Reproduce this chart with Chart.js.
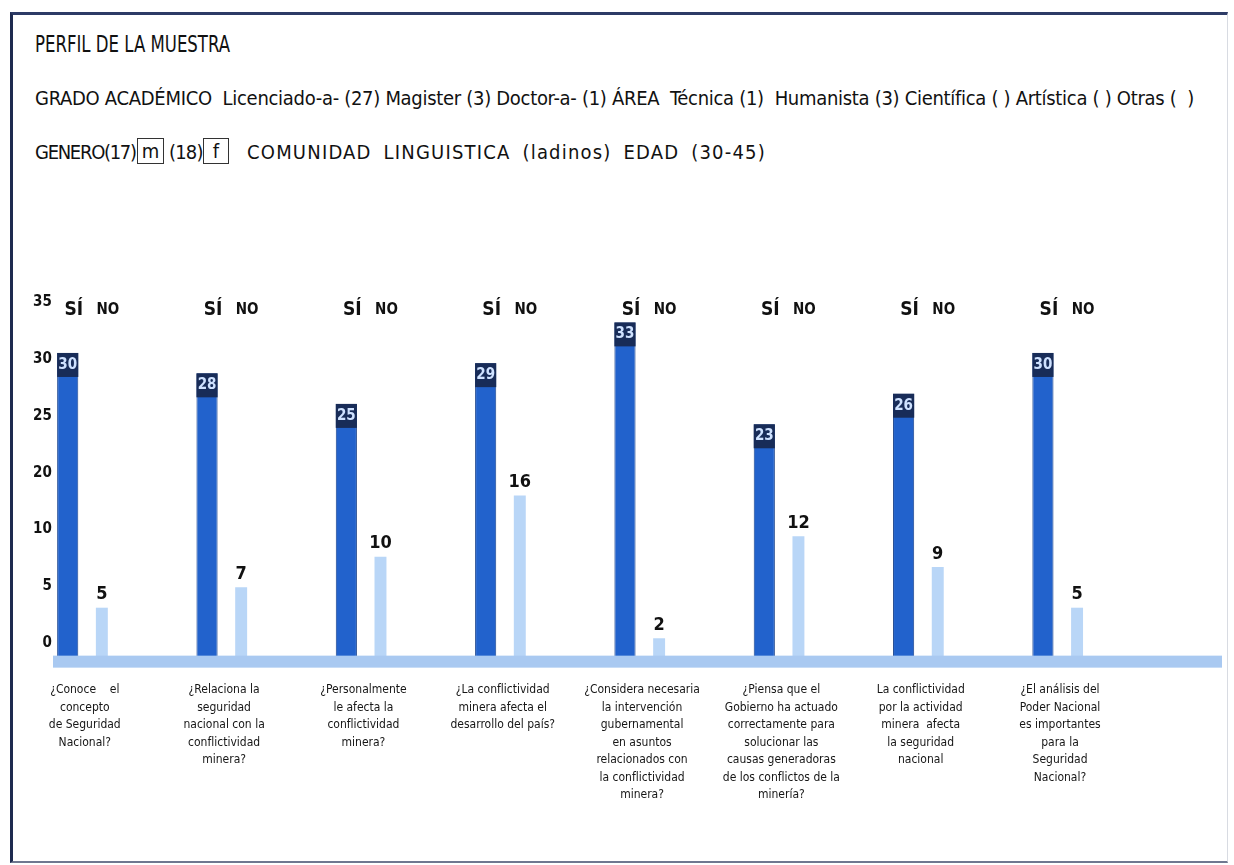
<!DOCTYPE html>
<html lang="es">
<head>
<meta charset="utf-8">
<title>Perfil de la muestra</title>
<script src="https://cdn.jsdelivr.net/npm/chart.js@4.4.1/dist/chart.umd.min.js"></script>
<style>
    html, body { margin: 0; padding: 0; background: #ffffff; }
    #page { position: relative; width: 1234px; height: 865px; overflow: hidden; background: #fff; }
    #frame {
        position: absolute; left: 10px; top: 12px; width: 1214px; height: 846px;
        border-left: 3px solid #1e2a4f; border-top: 3px solid #2d3b66;
        border-bottom: 2px solid #6f7890; border-right: 1px solid #d8dbe2;
    }
    .head { position: absolute; color: #111; white-space: nowrap; line-height: 24px;
            font-family: 'DejaVu Sans Condensed', 'DejaVu Sans', sans-serif; font-size: 20px; }
    #title { left: 35px; top: 32px; font-size: 23px; transform: scaleX(0.8); transform-origin: left center; }
    #line1 { left: 35px; top: 86px; letter-spacing: -0.3px; }
    .l2 { top: 140px; }
    .box { position: absolute; top: 138px; height: 26px; border: 1px solid #333; box-sizing: border-box;
           text-align: center; line-height: 24px; }
    #chartWrap { position: absolute; left: 0; top: 0; width: 1234px; height: 865px; }
</style>
</head>
<body>
<div id="page">
    <div id="frame"></div>
    <div class="head" id="title">PERFIL DE LA MUESTRA</div>
    <div class="head" id="line1">GRADO ACADÉMICO&nbsp; Licenciado-a- (27) Magister (3) Doctor-a- (1) ÁREA&nbsp; Técnica (1)&nbsp; Humanista (3) Científica ( ) Artística ( ) Otras (&nbsp; )</div>
    <div class="head l2" style="left:35px; letter-spacing:-1.3px;">GENERO(17)</div>
    <div class="head box" style="left:137px; width:27px;">m</div>
    <div class="head l2" style="left:169px; letter-spacing:-0.8px;">(18)</div>
    <div class="head box" style="left:203px; width:26px;">f</div>
    <div class="head l2" style="left:247px; letter-spacing:1.2px; word-spacing:5px;">COMUNIDAD LINGUISTICA (ladinos) EDAD (30-45)</div>
    <div id="chartWrap"><canvas id="perfilChart"></canvas></div>
</div>

<script>
// Datos
const preguntas = [
    ['¿Conoce    el', 'concepto', 'de Seguridad', 'Nacional?'],
    ['¿Relaciona la', 'seguridad', 'nacional con la', 'conflictividad', 'minera?'],
    ['¿Personalmente', 'le afecta la', 'conflictividad', 'minera?'],
    ['¿La conflictividad', 'minera afecta el', 'desarrollo del país?'],
    ['¿Considera necesaria', 'la intervención', 'gubernamental', 'en asuntos', 'relacionados con', 'la conflictividad', 'minera?'],
    ['¿Piensa que el', 'Gobierno ha actuado', 'correctamente para', 'solucionar las', 'causas generadoras', 'de los conflictos de la', 'minería?'],
    ['La conflictividad', 'por la actividad', 'minera  afecta', 'la seguridad', 'nacional'],
    ['¿El análisis del', 'Poder Nacional', 'es importantes', 'para la', 'Seguridad', 'Nacional?']
];
const respuestas = ['SÍ', 'NO'];
const valoresSi = [30, 28, 25, 29, 33, 23, 26, 30];
const valoresNo = [5, 7, 10, 16, 2, 12, 9, 5];
// etiquetas del eje tal como aparecen en el original (sin el 15)
const etiquetasEje = ['35', '30', '25', '20', '10', '5', '0'];

const fuenteBarra = "'DejaVu Sans Condensed', 'DejaVu Sans', sans-serif";

// Banda celeste bajo las barras y rótulos de valores
const etiquetasPlugin = {
    id: 'etiquetasPlugin',
    afterDatasetsDraw(chart) {
        const ctx = chart.ctx;
        const yScale = chart.scales.y;
        const base = yScale.getPixelForValue(0);

        // banda horizontal
        ctx.save();
        ctx.fillStyle = '#a9c9f1';
        ctx.fillRect(53, base - 3, chart.width - 65, 12);

        // valores de la serie SÍ (caja oscura arriba de la barra)
        chart.getDatasetMeta(0).data.forEach(function(bar, i) {
            const w = bar.width;
            ctx.fillStyle = '#182c58';
            ctx.fillRect(bar.x - w / 2, bar.y, w, 24);
            ctx.fillStyle = '#cfe2ff';
            ctx.font = 'bold 15px ' + fuenteBarra;
            ctx.textAlign = 'center';
            ctx.textBaseline = 'middle';
            ctx.fillText(String(chart.data.datasets[0].data[i]), bar.x, bar.y + 12);
        });

        // valores de la serie NO (encima de la barra)
        chart.getDatasetMeta(1).data.forEach(function(bar, i) {
            ctx.fillStyle = '#111111';
            ctx.font = 'bold 18px ' + fuenteBarra;
            ctx.textAlign = 'center';
            ctx.textBaseline = 'bottom';
            ctx.fillText(String(chart.data.datasets[1].data[i]), bar.x, bar.y - 4);
        });

        // rótulos SÍ / NO sobre cada grupo
        const top = chart.chartArea.top;
        chart.data.datasets.forEach(function(ds, d) {
            chart.getDatasetMeta(d).data.forEach(function(bar) {
                ctx.fillStyle = '#111111';
                ctx.font = 'bold ' + (d === 0 ? 19 : 15) + 'px ' + fuenteBarra;
                ctx.textAlign = 'center';
                ctx.textBaseline = 'middle';
                ctx.fillText(ds.label, bar.x + 6, top + 8);
            });
        });
        ctx.restore();
    }
};

function crearGrafico() {
    const ctx = document.getElementById('perfilChart');

    new Chart(ctx.getContext('2d'), {
        type: 'bar',
        data: {
            labels: preguntas,
            datasets: [
                {
                    label: respuestas[0],
                    data: valoresSi,
                    backgroundColor: '#2262cc',
                    borderColor: '#1a448f',
                    borderWidth: 1,
                    base: 0,
                    clip: false,
                    categoryPercentage: 0.49,
                    barPercentage: 0.62
                },
                {
                    label: respuestas[1],
                    data: valoresNo,
                    backgroundColor: '#b9d6f7',
                    borderWidth: 0,
                    base: 0,
                    clip: false,
                    categoryPercentage: 0.49,
                    barPercentage: 0.35
                }
            ]
        },
        options: {
            responsive: true,
            maintainAspectRatio: false,
            animation: false,
            layout: {
                padding: { top: 302, left: 0, right: 174, bottom: 23 }
            },
            plugins: {
                legend: { display: false },
                tooltip: { enabled: false }
            },
            scales: {
                x: {
                    offset: false,
                    grid: { display: false, drawTicks: false },
                    border: { display: false },
                    ticks: {
                        padding: 38,
                        autoSkip: false,
                        maxRotation: 0,
                        color: '#161616',
                        font: { family: "'DejaVu Sans Condensed', sans-serif", size: 12, lineHeight: 1.46 }
                    }
                },
                y: {
                    display: false,
                    min: 1.5,
                    max: 35
                },
                yEtiquetas: {
                    type: 'category',
                    position: 'left',
                    labels: etiquetasEje,
                    offset: false,
                    grid: { display: false, drawTicks: false },
                    border: { display: false },
                    ticks: {
                        padding: 33,
                        color: '#111111',
                        font: { family: fuenteBarra, size: 15, weight: 'bold' }
                    }
                }
            }
        },
        plugins: [etiquetasPlugin]
    });
}

document.addEventListener('DOMContentLoaded', crearGrafico);
</script>
</body>
</html>
